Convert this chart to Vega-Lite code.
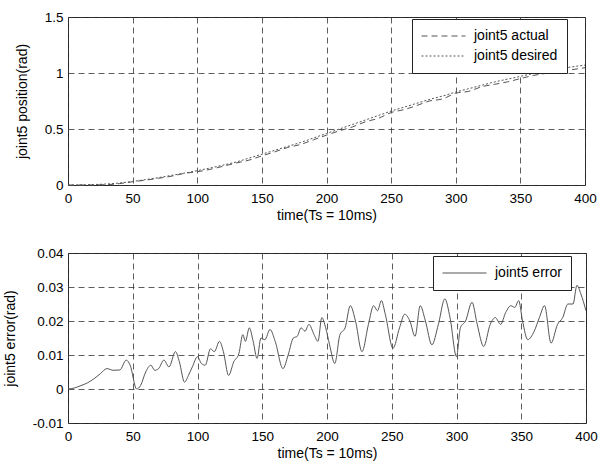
{
  "$schema": "https://vega.github.io/schema/vega-lite/v6.json",
  "padding": {"left": 2, "top": 9, "right": 5, "bottom": 5},
  "background": "white",
  "spacing": 22,
  "config": {
    "font": "Liberation Sans",
    "view": {"stroke": "#222", "strokeWidth": 1},
    "axis": {
      "labelFont": "Liberation Sans",
      "labelFontSize": 13.5,
      "labelColor": "#000",
      "titleFont": "Liberation Sans",
      "titleFontSize": 14,
      "titleFontWeight": "normal",
      "titleColor": "#000",
      "ticks": false,
      "domain": false,
      "gridColor": "#333",
      "gridDash": [6, 4],
      "gridOpacity": 1,
      "gridWidth": 0.8
    },
    "axisX": {"labelPadding": 6, "titlePadding": 4, "labelFlush": false},
    "axisY": {"labelPadding": 5, "titlePadding": 15},
    "legend": {
      "labelFont": "Liberation Sans",
      "labelFontSize": 14,
      "labelColor": "#000",
      "strokeColor": "#222",
      "fillColor": "white",
      "padding": 9,
      "rowPadding": 4,
      "clipHeight": 16,
      "symbolType": "stroke",
      "symbolSize": 1936,
      "symbolStrokeWidth": 1,
      "labelOffset": 8,
      "title": null
    }
  },
  "resolve": {"legend": {"strokeDash": "independent", "color": "independent"}},
  "datasets": {
    "pos": [
      {"t": 0, "series": "joint5 desired", "value": 0.0},
      {"t": 10, "series": "joint5 desired", "value": 0.001},
      {"t": 20, "series": "joint5 desired", "value": 0.004},
      {"t": 30, "series": "joint5 desired", "value": 0.009},
      {"t": 40, "series": "joint5 desired", "value": 0.018},
      {"t": 50, "series": "joint5 desired", "value": 0.032},
      {"t": 60, "series": "joint5 desired", "value": 0.048},
      {"t": 70, "series": "joint5 desired", "value": 0.066},
      {"t": 80, "series": "joint5 desired", "value": 0.086},
      {"t": 90, "series": "joint5 desired", "value": 0.106},
      {"t": 100, "series": "joint5 desired", "value": 0.128},
      {"t": 110, "series": "joint5 desired", "value": 0.152},
      {"t": 120, "series": "joint5 desired", "value": 0.178},
      {"t": 130, "series": "joint5 desired", "value": 0.205},
      {"t": 140, "series": "joint5 desired", "value": 0.24},
      {"t": 150, "series": "joint5 desired", "value": 0.275},
      {"t": 160, "series": "joint5 desired", "value": 0.31},
      {"t": 170, "series": "joint5 desired", "value": 0.345},
      {"t": 180, "series": "joint5 desired", "value": 0.38},
      {"t": 190, "series": "joint5 desired", "value": 0.42},
      {"t": 200, "series": "joint5 desired", "value": 0.46},
      {"t": 210, "series": "joint5 desired", "value": 0.5},
      {"t": 220, "series": "joint5 desired", "value": 0.54},
      {"t": 230, "series": "joint5 desired", "value": 0.58},
      {"t": 240, "series": "joint5 desired", "value": 0.62},
      {"t": 250, "series": "joint5 desired", "value": 0.66},
      {"t": 260, "series": "joint5 desired", "value": 0.695},
      {"t": 270, "series": "joint5 desired", "value": 0.73},
      {"t": 280, "series": "joint5 desired", "value": 0.765},
      {"t": 290, "series": "joint5 desired", "value": 0.795},
      {"t": 300, "series": "joint5 desired", "value": 0.83},
      {"t": 310, "series": "joint5 desired", "value": 0.86},
      {"t": 320, "series": "joint5 desired", "value": 0.89},
      {"t": 330, "series": "joint5 desired", "value": 0.92},
      {"t": 340, "series": "joint5 desired", "value": 0.945},
      {"t": 350, "series": "joint5 desired", "value": 0.97},
      {"t": 360, "series": "joint5 desired", "value": 0.995},
      {"t": 370, "series": "joint5 desired", "value": 1.015},
      {"t": 380, "series": "joint5 desired", "value": 1.035},
      {"t": 390, "series": "joint5 desired", "value": 1.055},
      {"t": 400, "series": "joint5 desired", "value": 1.07},
      {"t": 0, "series": "joint5 actual", "value": 0.0},
      {"t": 10, "series": "joint5 actual", "value": 0.0},
      {"t": 20, "series": "joint5 actual", "value": 0.001},
      {"t": 30, "series": "joint5 actual", "value": 0.003},
      {"t": 40, "series": "joint5 actual", "value": 0.0125},
      {"t": 50, "series": "joint5 actual", "value": 0.029},
      {"t": 60, "series": "joint5 actual", "value": 0.043},
      {"t": 70, "series": "joint5 actual", "value": 0.06},
      {"t": 80, "series": "joint5 actual", "value": 0.078},
      {"t": 90, "series": "joint5 actual", "value": 0.104},
      {"t": 100, "series": "joint5 actual", "value": 0.1185},
      {"t": 110, "series": "joint5 actual", "value": 0.14},
      {"t": 120, "series": "joint5 actual", "value": 0.167},
      {"t": 130, "series": "joint5 actual", "value": 0.196},
      {"t": 140, "series": "joint5 actual", "value": 0.222},
      {"t": 150, "series": "joint5 actual", "value": 0.26},
      {"t": 160, "series": "joint5 actual", "value": 0.296},
      {"t": 170, "series": "joint5 actual", "value": 0.335},
      {"t": 180, "series": "joint5 actual", "value": 0.362},
      {"t": 190, "series": "joint5 actual", "value": 0.404},
      {"t": 200, "series": "joint5 actual", "value": 0.445},
      {"t": 210, "series": "joint5 actual", "value": 0.484},
      {"t": 220, "series": "joint5 actual", "value": 0.518},
      {"t": 230, "series": "joint5 actual", "value": 0.564},
      {"t": 240, "series": "joint5 actual", "value": 0.595},
      {"t": 250, "series": "joint5 actual", "value": 0.647},
      {"t": 260, "series": "joint5 actual", "value": 0.673},
      {"t": 270, "series": "joint5 actual", "value": 0.71},
      {"t": 280, "series": "joint5 actual", "value": 0.751},
      {"t": 290, "series": "joint5 actual", "value": 0.769},
      {"t": 300, "series": "joint5 actual", "value": 0.82},
      {"t": 310, "series": "joint5 actual", "value": 0.836},
      {"t": 320, "series": "joint5 actual", "value": 0.877},
      {"t": 330, "series": "joint5 actual", "value": 0.899},
      {"t": 340, "series": "joint5 actual", "value": 0.921},
      {"t": 350, "series": "joint5 actual", "value": 0.95},
      {"t": 360, "series": "joint5 actual", "value": 0.978},
      {"t": 370, "series": "joint5 actual", "value": 0.997},
      {"t": 380, "series": "joint5 actual", "value": 1.015},
      {"t": 390, "series": "joint5 actual", "value": 1.03},
      {"t": 400, "series": "joint5 actual", "value": 1.047}
    ],
    "err": [
      {"t": 0, "value": 0.0},
      {"t": 5, "value": 0.0003},
      {"t": 10, "value": 0.001},
      {"t": 15, "value": 0.0018},
      {"t": 20, "value": 0.003},
      {"t": 25, "value": 0.0045},
      {"t": 30, "value": 0.006},
      {"t": 35, "value": 0.0055},
      {"t": 40, "value": 0.0056},
      {"t": 45, "value": 0.0085},
      {"t": 48, "value": 0.007},
      {"t": 53, "value": 0.0},
      {"t": 56, "value": 0.001},
      {"t": 60, "value": 0.005},
      {"t": 64, "value": 0.007},
      {"t": 67, "value": 0.0055},
      {"t": 70, "value": 0.006},
      {"t": 74, "value": 0.0085},
      {"t": 78, "value": 0.0065},
      {"t": 83, "value": 0.011},
      {"t": 86, "value": 0.008},
      {"t": 90, "value": 0.002},
      {"t": 93, "value": 0.004},
      {"t": 96, "value": 0.0065},
      {"t": 100, "value": 0.0095},
      {"t": 103, "value": 0.0075},
      {"t": 106, "value": 0.007},
      {"t": 110, "value": 0.0118},
      {"t": 113, "value": 0.011},
      {"t": 117, "value": 0.014},
      {"t": 120, "value": 0.011},
      {"t": 124, "value": 0.004},
      {"t": 128, "value": 0.008},
      {"t": 132, "value": 0.0105},
      {"t": 135, "value": 0.016},
      {"t": 137, "value": 0.014},
      {"t": 140, "value": 0.018},
      {"t": 143, "value": 0.014},
      {"t": 146, "value": 0.009},
      {"t": 149, "value": 0.015},
      {"t": 152, "value": 0.0145},
      {"t": 156, "value": 0.0175},
      {"t": 160, "value": 0.014},
      {"t": 166, "value": 0.006},
      {"t": 170, "value": 0.01},
      {"t": 174, "value": 0.015},
      {"t": 177, "value": 0.0155},
      {"t": 180, "value": 0.018},
      {"t": 183, "value": 0.017},
      {"t": 186, "value": 0.019},
      {"t": 190, "value": 0.016},
      {"t": 193, "value": 0.014},
      {"t": 196, "value": 0.021},
      {"t": 199, "value": 0.018},
      {"t": 202, "value": 0.013},
      {"t": 206, "value": 0.0075},
      {"t": 210, "value": 0.016},
      {"t": 214, "value": 0.018},
      {"t": 218, "value": 0.0245},
      {"t": 222, "value": 0.02},
      {"t": 227, "value": 0.011},
      {"t": 232, "value": 0.019},
      {"t": 236, "value": 0.0245},
      {"t": 239, "value": 0.023},
      {"t": 242, "value": 0.026},
      {"t": 245, "value": 0.022},
      {"t": 251, "value": 0.012},
      {"t": 256, "value": 0.018},
      {"t": 260, "value": 0.022},
      {"t": 264, "value": 0.02},
      {"t": 268, "value": 0.0155},
      {"t": 272, "value": 0.0245},
      {"t": 276, "value": 0.02},
      {"t": 281, "value": 0.013},
      {"t": 286, "value": 0.019},
      {"t": 291, "value": 0.0265},
      {"t": 295, "value": 0.021},
      {"t": 300, "value": 0.0095},
      {"t": 303, "value": 0.018},
      {"t": 307, "value": 0.02},
      {"t": 312, "value": 0.0255},
      {"t": 316, "value": 0.019},
      {"t": 321, "value": 0.0125},
      {"t": 326, "value": 0.019},
      {"t": 330, "value": 0.021},
      {"t": 334, "value": 0.019},
      {"t": 338, "value": 0.0225},
      {"t": 342, "value": 0.0245},
      {"t": 345, "value": 0.024},
      {"t": 348, "value": 0.026},
      {"t": 351, "value": 0.02},
      {"t": 355, "value": 0.0145},
      {"t": 360, "value": 0.017},
      {"t": 364, "value": 0.021},
      {"t": 368, "value": 0.0245},
      {"t": 373, "value": 0.0135},
      {"t": 378, "value": 0.019},
      {"t": 382, "value": 0.021},
      {"t": 386, "value": 0.025},
      {"t": 390, "value": 0.025},
      {"t": 393, "value": 0.0305},
      {"t": 396, "value": 0.028},
      {"t": 400, "value": 0.023}
    ]
  },
  "vconcat": [
    {
      "width": 517,
      "height": 168,
      "data": {"name": "pos"},
      "mark": {"type": "line", "color": "#555", "strokeWidth": 1, "interpolate": "monotone"},
      "encoding": {
        "x": {
          "field": "t", "type": "quantitative",
          "scale": {"domain": [0, 400], "nice": false},
          "axis": {"title": "time(Ts = 10ms)", "values": [0, 50, 100, 150, 200, 250, 300, 350, 400], "grid": true}
        },
        "y": {
          "field": "value", "type": "quantitative",
          "scale": {"domain": [0, 1.5], "nice": false},
          "axis": {"title": "joint5 position(rad)", "values": [0, 0.5, 1, 1.5], "grid": true, "format": "~g"}
        },
        "strokeDash": {
          "field": "series", "type": "nominal",
          "scale": {"domain": ["joint5 actual", "joint5 desired"], "range": [[6, 4], [2, 2]]},
          "legend": {"orient": "none", "legendX": 344, "legendY": 2, "symbolStrokeColor": "#555"}
        }
      }
    },
    {
      "width": 518,
      "height": 170,
      "data": {"name": "err"},
      "mark": {"type": "line", "color": "#555", "strokeWidth": 1, "interpolate": "monotone"},
      "encoding": {
        "x": {
          "field": "t", "type": "quantitative",
          "scale": {"domain": [0, 400], "nice": false},
          "axis": {"title": "time(Ts = 10ms)", "values": [0, 50, 100, 150, 200, 250, 300, 350, 400], "grid": true}
        },
        "y": {
          "field": "value", "type": "quantitative",
          "scale": {"domain": [-0.01, 0.04], "nice": false},
          "axis": {"title": "joint5 error(rad)", "values": [-0.01, 0, 0.01, 0.02, 0.03, 0.04], "grid": true, "format": "~g", "labelExpr": "replace(datum.label, '−', '-')"}
        },
        "color": {
          "datum": "joint5 error", "type": "nominal",
          "scale": {"domain": ["joint5 error"], "range": ["#555"]},
          "legend": {"orient": "none", "legendX": 365, "legendY": 3}
        }
      }
    }
  ]
}
